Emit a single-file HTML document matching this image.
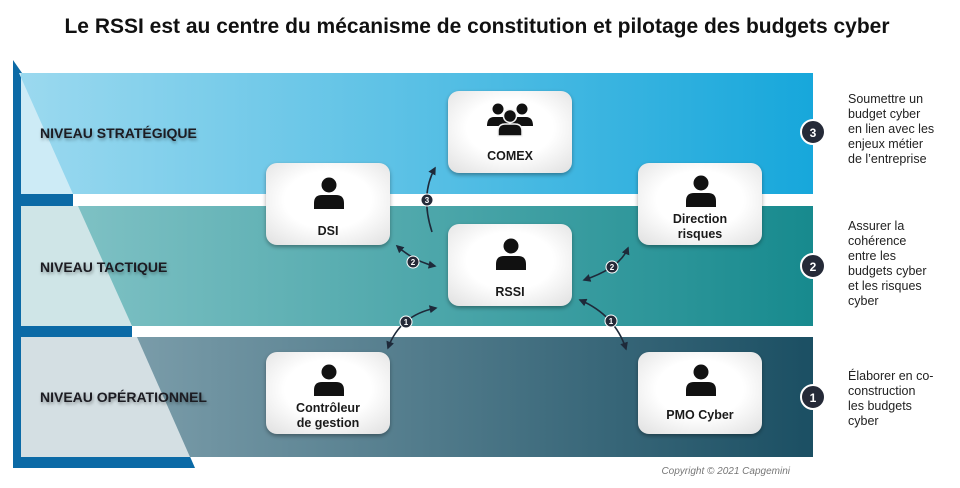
<!DOCTYPE html>
<html><head><meta charset="utf-8"><style>
html,body{margin:0;padding:0;background:#fff;width:960px;height:488px;overflow:hidden}
svg text{font-family:"Liberation Sans","DejaVu Sans",sans-serif}
</style></head><body>
<svg width="960" height="488" viewBox="0 0 960 488" xmlns="http://www.w3.org/2000/svg">
<defs>
<linearGradient id="g1" x1="0" x2="1" y1="0" y2="0"><stop offset="0" stop-color="#9bd9ef"/><stop offset="1" stop-color="#17a7db"/></linearGradient>
<linearGradient id="g2" x1="0" x2="1" y1="0" y2="0"><stop offset="0" stop-color="#86c5c8"/><stop offset="1" stop-color="#178a8e"/></linearGradient>
<linearGradient id="g3" x1="0" x2="1" y1="0" y2="0"><stop offset="0" stop-color="#8aa9b5"/><stop offset="1" stop-color="#1b4f63"/></linearGradient>
<radialGradient id="bx" cx="0.5" cy="0.45" r="0.7"><stop offset="0.5" stop-color="#fff"/><stop offset="1" stop-color="#e3e3e3"/></radialGradient>
<filter id="sh" x="-20%" y="-20%" width="140%" height="150%"><feDropShadow dx="0" dy="2" stdDeviation="2" flood-color="#000" flood-opacity="0.35"/></filter>
<filter id="ts"><feDropShadow dx="1" dy="2" stdDeviation="1.5" flood-color="#000" flood-opacity="0.35"/></filter>
<marker id="ar" viewBox="0 0 10 10" refX="8" refY="5" markerWidth="5" markerHeight="5" orient="auto-start-reverse"><path d="M0,0 L10,5 L0,10 z" fill="#1e2a3a"/></marker>
<symbol id="person" viewBox="0 0 30 32"><circle cx="15" cy="8" r="7.5"/><path d="M0,32 L0,26 Q0,18 8,18 L22,18 Q30,18 30,26 L30,32 z"/></symbol>
</defs>
<text x="477" y="33" text-anchor="middle" font-size="21" font-weight="bold" fill="#111">Le RSSI est au centre du mécanisme de constitution et pilotage des budgets cyber</text>
<polygon points="13,60 22,73 195,468 13,468" fill="#0b6aa6"/>
<rect x="21" y="73" width="792" height="121" fill="url(#g1)"/>
<rect x="21" y="206" width="792" height="120" fill="url(#g2)"/>
<rect x="21" y="337" width="792" height="120" fill="url(#g3)"/>
<rect x="73" y="194" width="740" height="12" fill="#fff"/>
<rect x="132" y="326" width="681" height="11" fill="#fff"/>
<polygon points="21,73 19,73 73,194 21,194" fill="#cdebf6"/>
<polygon points="21,206 78,206 132,326 21,326" fill="#cfe5e7"/>
<polygon points="21,337 137,337 190,457 21,457" fill="#d4dfe3"/>
<g font-size="14" font-weight="bold" fill="#1a1a22" filter="url(#ts)">
<text x="40" y="138">NIVEAU STRATÉGIQUE</text>
<text x="40" y="272">NIVEAU TACTIQUE</text>
<text x="40" y="402">NIVEAU OPÉRATIONNEL</text>
</g>
<g stroke="#1e2a3a" stroke-width="1.6" fill="none">
<path d="M432,232 Q420,195 435,168" marker-end="url(#ar)"/>
<path d="M397,246 Q415,262 435,266" marker-start="url(#ar)" marker-end="url(#ar)"/>
<path d="M584,280 Q620,268 628,248" marker-start="url(#ar)" marker-end="url(#ar)"/>
<path d="M388,348 Q400,315 436,308" marker-start="url(#ar)" marker-end="url(#ar)"/>
<path d="M580,300 Q615,315 626,349" marker-start="url(#ar)" marker-end="url(#ar)"/>
</g>
<g font-size="8" font-weight="bold" fill="#fff" text-anchor="middle">
<circle cx="427" cy="200" r="6" fill="#252a38" stroke="#fff" stroke-width="1"/><text x="427" y="203">3</text>
<circle cx="413" cy="262" r="6" fill="#252a38" stroke="#fff" stroke-width="1"/><text x="413" y="265">2</text>
<circle cx="612" cy="267" r="6" fill="#252a38" stroke="#fff" stroke-width="1"/><text x="612" y="270">2</text>
<circle cx="406" cy="322" r="6" fill="#252a38" stroke="#fff" stroke-width="1"/><text x="406" y="325">1</text>
<circle cx="611" cy="321" r="6" fill="#252a38" stroke="#fff" stroke-width="1"/><text x="611" y="324">1</text>
</g>
<g filter="url(#sh)" fill="url(#bx)">
<rect x="448" y="91" width="124" height="82" rx="11"/>
<rect x="266" y="163" width="124" height="82" rx="11"/>
<rect x="638" y="163" width="124" height="82" rx="11"/>
<rect x="448" y="224" width="124" height="82" rx="11"/>
<rect x="266" y="352" width="124" height="82" rx="11"/>
<rect x="638" y="352" width="124" height="82" rx="11"/>
</g>
<g fill="#111">
<circle cx="498" cy="109" r="5.5"/><circle cx="522" cy="109" r="5.5"/>
<path d="M487,126 Q487,117 494,117 L502,117 Q509,117 509,126 z"/>
<path d="M511,126 Q511,117 518,117 L526,117 Q533,117 533,126 z"/>
<circle cx="510" cy="116" r="6.5" stroke="#f4f4f4" stroke-width="1.5"/>
<path d="M498,136 L498,131 Q498,124 505,124 L515,124 Q522,124 522,131 L522,136 z" stroke="#f4f4f4" stroke-width="1.5"/>
<use href="#person" x="314" y="177" width="30" height="32"/>
<use href="#person" x="686" y="175" width="30" height="32"/>
<use href="#person" x="496" y="238" width="30" height="32"/>
<use href="#person" x="314" y="364" width="30" height="32"/>
<use href="#person" x="686" y="364" width="30" height="32"/>
</g>
<g font-size="12.5" font-weight="bold" fill="#1a1a1a" text-anchor="middle">
<text x="510" y="160">COMEX</text>
<text x="328" y="235">DSI</text>
<text x="700" y="223">Direction</text><text x="700" y="238">risques</text>
<text x="510" y="296">RSSI</text>
<text x="328" y="412">Contrôleur</text><text x="328" y="427">de gestion</text>
<text x="700" y="419">PMO Cyber</text>
</g>
<g font-size="12" font-weight="bold" fill="#fff" text-anchor="middle">
<circle cx="813" cy="132" r="12" fill="#252a38" stroke="#fff" stroke-width="2"/><text x="813" y="137">3</text>
<circle cx="813" cy="266" r="12" fill="#252a38" stroke="#fff" stroke-width="2"/><text x="813" y="271">2</text>
<circle cx="813" cy="397" r="12" fill="#252a38" stroke="#fff" stroke-width="2"/><text x="813" y="402">1</text>
</g>
<g font-size="12.5" fill="#222">
<text x="848" y="103">Soumettre un</text><text x="848" y="118">budget cyber</text><text x="848" y="133">en lien avec les</text><text x="848" y="148">enjeux métier</text><text x="848" y="163">de l’entreprise</text>
<text x="848" y="230">Assurer la</text><text x="848" y="245">cohérence</text><text x="848" y="260">entre les</text><text x="848" y="275">budgets cyber</text><text x="848" y="290">et les risques</text><text x="848" y="305">cyber</text>
<text x="848" y="380">Élaborer en co-</text><text x="848" y="395">construction</text><text x="848" y="410">les budgets</text><text x="848" y="425">cyber</text>
</g>
<text x="790" y="474" text-anchor="end" font-size="10" font-style="italic" fill="#777">Copyright © 2021 Capgemini</text>
</svg>
</body></html>
